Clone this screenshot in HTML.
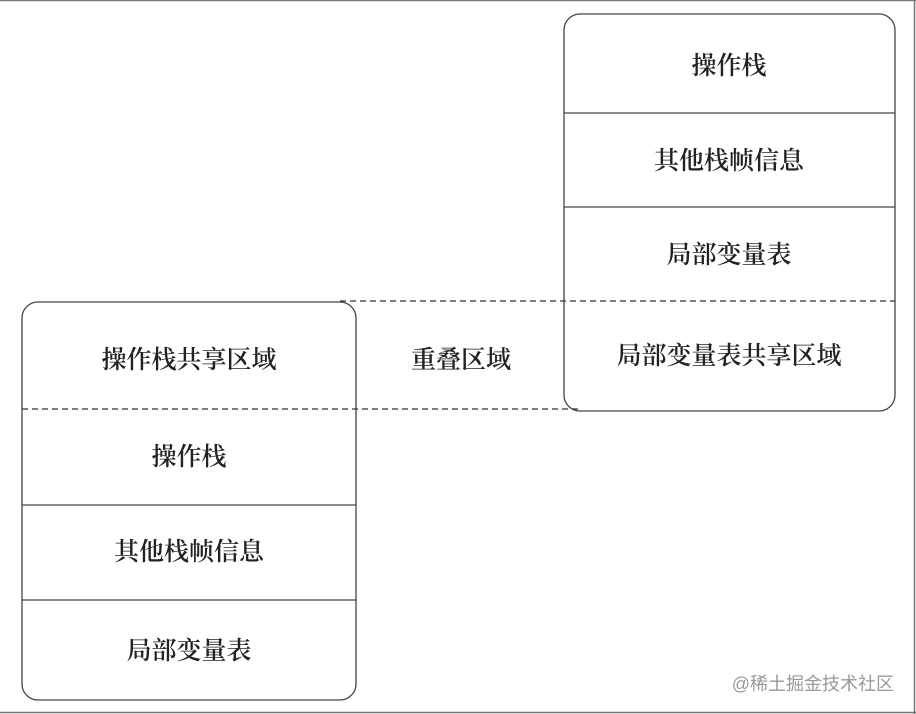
<!DOCTYPE html>
<html><head><meta charset="utf-8"><style>
body{margin:0;width:916px;height:714px;background:#fff;overflow:hidden}
</style></head><body>
<svg width="916" height="714" xmlns="http://www.w3.org/2000/svg" style="position:absolute;left:0;top:0">
<rect x="0" y="0" width="916" height="714" fill="#fff"/>
<line x1="0" y1="0.5" x2="916" y2="0.5" stroke="#777" stroke-width="1.5"/>
<line x1="0" y1="712.5" x2="916" y2="712.5" stroke="#777" stroke-width="1.5"/>
<line x1="914.5" y1="0" x2="914.5" y2="714" stroke="#777" stroke-width="1.5"/>
<g fill="none" stroke="#444" stroke-width="1.3">
<rect x="564" y="14" width="331" height="397" rx="16"/>
<line x1="564" y1="113" x2="895" y2="113"/>
<line x1="564" y1="207" x2="895" y2="207"/>
<rect x="22" y="302" width="334" height="398" rx="16"/>
<line x1="22" y1="505" x2="356" y2="505"/>
<line x1="22" y1="600" x2="356" y2="600"/>
</g>
<g stroke="#333" stroke-width="1.3" stroke-dasharray="6,4">
<line x1="340" y1="301" x2="895" y2="301"/>
<line x1="22" y1="409" x2="580" y2="409"/>
</g>
<g font-family="'Noto Serif CJK SC','Noto Sans CJK SC',serif" font-size="25" font-weight="600" fill="#222" text-anchor="middle" dominant-baseline="central">
<text x="729" y="64">操作栈</text>
<text x="729" y="159">其他栈帧信息</text>
<text x="729" y="253">局部变量表</text>
<text x="729" y="354">局部变量表共享区域</text>
<text x="189" y="358">操作栈共享区域</text>
<text x="461" y="358">重叠区域</text>
<text x="189" y="455">操作栈</text>
<text x="189" y="550">其他栈帧信息</text>
<text x="189" y="649">局部变量表</text>
</g>
<text x="894" y="690" text-anchor="end" font-family="'Liberation Sans','Noto Sans CJK SC',sans-serif" font-size="18" fill="#999">@稀土掘金技术社区</text>
</svg>
</body></html>
